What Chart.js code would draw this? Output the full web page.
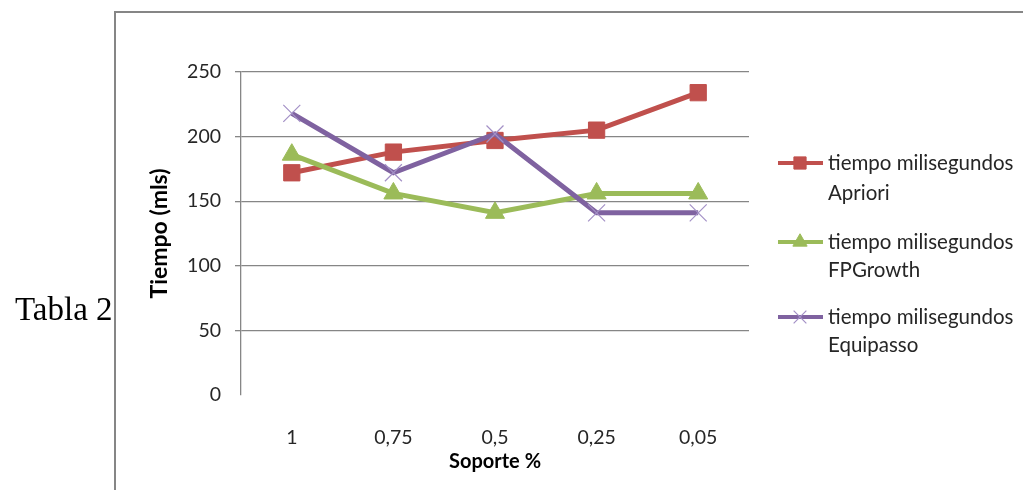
<!DOCTYPE html>
<html>
<head>
<meta charset="utf-8">
<script src="https://cdn.jsdelivr.net/npm/chart.js@4/dist/chart.umd.min.js"></script>
<style>
  html, body { margin: 0; padding: 0; background: #fff; }
  #wrap { position: relative; width: 1023px; height: 490px; }
</style>
</head>
<body>
<div id="wrap"><canvas id="c" width="1023" height="490"></canvas></div>
<script>
// Support levels (x axis) and run times in milliseconds per algorithm
const categories = ['1', '0,75', '0,5', '0,25', '0,05'];
const apriori   = [172, 188, 197, 205, 234];
const fpgrowth  = [186, 156, 141, 156, 156];
const equipasso = [218, 172, 202, 141, 141];
const yTicks = [0, 50, 100, 150, 200, 250];
const legendLines = [
  ['tiempo milisegundos', 'Apriori'],
  ['tiempo milisegundos', 'FPGrowth'],
  ['tiempo milisegundos', 'Equipasso']
];

const FONT = 'Lato, "Open Sans", sans-serif';
const GRID = '#868686';
const TEXT = '#262626';

// Page frame and side caption
const framePlugin = {
  id: 'frame',
  beforeDraw(chart) {
    const ctx = chart.ctx;
    ctx.save();
    ctx.strokeStyle = GRID;
    ctx.lineWidth = 2;
    ctx.beginPath();
    ctx.moveTo(115, 490);
    ctx.lineTo(115, 12);
    ctx.lineTo(1023, 12);
    ctx.stroke();
    ctx.fillStyle = '#000';
    ctx.font = '33px "Liberation Serif", "Times New Roman", serif';
    ctx.textBaseline = 'alphabetic';
    ctx.textAlign = 'left';
    ctx.fillText('Tabla 2', 15, 320);
    ctx.restore();
  }
};

// Two-line legend on the right, styled from each dataset
const legendPlugin = {
  id: 'sideLegend',
  afterDraw(chart) {
    const ctx = chart.ctx;
    const rows = [[163, 193], [242, 270], [317, 345]];
    ctx.save();
    chart.data.datasets.forEach((ds, i) => {
      const [y1, y2] = rows[i];
      ctx.strokeStyle = ds.borderColor;
      ctx.lineWidth = 4;
      ctx.beginPath();
      ctx.moveTo(778, y1);
      ctx.lineTo(823, y1);
      ctx.stroke();
      ctx.fillStyle = ds.pointBackgroundColor;
      ctx.strokeStyle = ds.pointBorderColor;
      ctx.lineWidth = ds.pointBorderWidth;
      Chart.helpers.drawPoint(ctx, {
        pointStyle: ds.pointStyle,
        radius: ds.pointRadius * 0.75,
        rotation: 0,
        borderWidth: ds.pointBorderWidth
      }, 800, y1);
      ctx.fillStyle = TEXT;
      ctx.font = '20.5px ' + FONT;
      ctx.textAlign = 'left';
      ctx.textBaseline = 'middle';
      ctx.fillText(legendLines[i][0], 828, y1);
      ctx.fillText(legendLines[i][1], 828, y2);
    });
    ctx.restore();
  }
};

new Chart(document.getElementById('c'), {
  type: 'line',
  data: {
    labels: categories,
    datasets: [
      {
        label: legendLines[0].join(' '),
        data: apriori,
        order: 2,
        borderColor: '#C0504D',
        backgroundColor: '#C0504D',
        pointBackgroundColor: '#C0504D',
        pointBorderColor: '#C0504D',
        borderWidth: 5,
        pointStyle: 'rect',
        pointRadius: 11.5,
        pointBorderWidth: 1,
        tension: 0
      },
      {
        label: legendLines[1].join(' '),
        data: fpgrowth,
        order: 1,
        borderColor: '#9BBB59',
        backgroundColor: '#9BBB59',
        pointBackgroundColor: '#9BBB59',
        pointBorderColor: '#9BBB59',
        borderWidth: 5,
        pointStyle: 'triangle',
        pointRadius: 11,
        pointBorderWidth: 1,
        tension: 0
      },
      {
        label: legendLines[2].join(' '),
        data: equipasso,
        order: 0,
        borderColor: '#7F62A0',
        backgroundColor: '#7F62A0',
        pointBackgroundColor: '#7F62A0',
        pointBorderColor: '#A390C6',
        borderWidth: 5,
        pointStyle: 'crossRot',
        pointRadius: 12,
        pointBorderWidth: 1.2,
        tension: 0
      }
    ]
  },
  options: {
    responsive: false,
    animation: false,
    devicePixelRatio: 1,
    layout: { padding: { left: 115, right: 274, top: 72, bottom: 0 } },
    plugins: {
      legend: { display: false },
      tooltip: { enabled: false }
    },
    scales: {
      x: {
        offset: true,
        grid: { display: false },
        border: { display: false },
        ticks: {
          color: TEXT,
          padding: 23,
          font: { family: FONT, size: 19.5 }
        },
        title: {
          display: true,
          text: 'Soporte %',
          color: '#000',
          padding: { top: 0, bottom: 16 },
          font: { family: FONT, size: 20, weight: 'bold' }
        },
        afterFit(scale) { scale.height = 95; }
      },
      y: {
        min: 0,
        max: 250,
        afterBuildTicks(scale) { scale.ticks = yTicks.map(v => ({ value: v })); },
        grid: {
          color: ctx => (ctx.tick && ctx.tick.value === 0) ? 'rgba(0,0,0,0)' : GRID,
          lineWidth: 1.3,
          tickLength: 6,
          drawTicks: true
        },
        border: { display: true, color: GRID, width: 1.3 },
        ticks: {
          color: TEXT,
          padding: 14,
          font: { family: FONT, size: 19.5 }
        },
        title: {
          display: true,
          text: 'Tiempo (mls)',
          color: '#000',
          padding: { top: 31, bottom: 0 },
          font: { family: FONT, size: 23, weight: 'bold' }
        },
        afterFit(scale) { scale.width = 126; }
      }
    }
  },
  plugins: [framePlugin, legendPlugin]
});
</script>
</body>
</html>
